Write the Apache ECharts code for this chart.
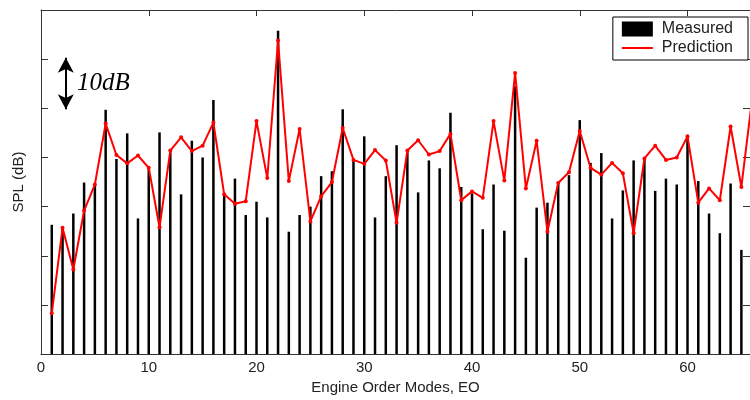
<!DOCTYPE html>
<html>
<head>
<meta charset="utf-8">
<script src="https://cdn.jsdelivr.net/npm/echarts@6/dist/echarts.min.js"></script>
<style>html,body{margin:0;padding:0;background:#fff;}#c{width:750px;height:400px;}</style>
</head>
<body>
<div id="c"></div>
<script>
const engineOrders = [1,2,3,4,5,6,7,8,9,10,11,12,13,14,15,16,17,18,19,20,21,22,23,24,25,26,27,28,29,30,31,32,33,34,35,36,37,38,39,40,41,42,43,44,45,46,47,48,49,50,51,52,53,54,55,56,57,58,59,60,61,62,63,64,65,66];
const measured = [26.3,25.5,28.6,34.9,34.5,49.7,39.7,44.9,27.6,37.8,45.1,41.4,32.5,43.4,40.0,51.7,32.6,35.7,28.3,31.0,27.8,65.8,24.9,28.3,30.0,36.2,37.2,49.8,39.4,44.3,27.8,36.2,42.5,41.4,32.9,39.4,37.8,49.1,34.0,32.7,25.4,34.5,25.1,54.5,19.6,29.8,30.8,34.6,36.4,47.6,38.9,40.9,27.6,33.3,39.4,39.7,33.2,35.7,34.5,44.2,35.2,28.6,24.6,34.7,21.2];
const prediction = [8.3,25.7,17.2,29.2,34.5,46.9,40.5,38.8,40.4,37.9,25.8,41.4,44.1,41.3,42.4,47.1,32.5,30.6,31.1,47.4,35.8,63.8,35.2,45.8,27.0,32.1,35.0,46.0,39.5,38.7,41.5,39.4,26.7,41.4,43.5,40.6,41.3,44.8,31.3,33.1,31.8,47.4,35.3,57.2,33.7,43.4,24.9,34.8,37.0,45.4,37.9,36.5,38.9,36.8,24.6,39.8,42.4,39.5,40.0,44.3,30.8,33.7,31.3,46.3,34.0,52.0];
const xTicks = [0,10,20,30,40,50,60];
const scaleBar = {x: 2.3, from: 60.3, to: 49.8, label: '10dB'};

const chart = echarts.init(document.getElementById('c'), null, {renderer: 'canvas'});
const axisColor = '#333';
const font = '"Liberation Sans", Arial, sans-serif';
const xBase = {
  type: 'value', min: 0, max: 65.8, interval: 10,
  axisLine: {show: true, onZero: false, lineStyle: {color: axisColor, width: 1}},
  axisTick: {show: true, inside: true, length: 6, lineStyle: {color: axisColor}},
  splitLine: {show: false}
};
const yBase = {
  type: 'value', min: 0, max: 70, interval: 10,
  axisLine: {show: true, onZero: false, lineStyle: {color: axisColor, width: 1}},
  axisTick: {show: true, inside: true, length: 7, lineStyle: {color: axisColor}},
  axisLabel: {show: false},
  splitLine: {show: false}
};
chart.setOption({
  animation: false,
  backgroundColor: '#fff',
  grid: {left: 41, top: 10, width: 711, height: 347, containLabel: false},
  xAxis: [
    Object.assign({}, xBase, {
      position: 'bottom',
      name: 'Engine Order Modes, EO', nameLocation: 'middle', nameGap: 22,
      nameTextStyle: {fontFamily: font, fontSize: 15, color: '#222'},
      axisLabel: {show: true, margin: 6, fontFamily: font, fontSize: 15, color: '#222',
        showMaxLabel: false,
        formatter: v => xTicks.indexOf(v) >= 0 ? String(v) : ''}
    }),
    Object.assign({}, xBase, {position: 'top', axisLabel: {show: false}})
  ],
  yAxis: [
    Object.assign({}, yBase, {
      position: 'left',
      name: 'SPL (dB)', nameLocation: 'middle', nameGap: 15, nameRotate: 90,
      nameTextStyle: {fontFamily: font, fontSize: 15, color: '#222'}
    }),
    Object.assign({}, yBase, {position: 'right'})
  ],
  legend: {
    right: 2, top: 17, orient: 'vertical',
    backgroundColor: '#fff',
    borderColor: '#000', borderWidth: 1, borderRadius: 0,
    padding: [4, 15, 4, 9],
    itemWidth: 31, itemHeight: 15, itemGap: 3,
    textStyle: {fontFamily: font, fontSize: 16, color: '#222', padding: [0, 0, 0, 4]},
    data: [
      {name: 'Measured', icon: 'rect'},
      {name: 'Prediction', icon: 'path://M0,0 L31,0 L31,2 L0,2 Z'}
    ]
  },
  series: [
    {
      name: 'Measured', type: 'bar', xAxisIndex: 0, yAxisIndex: 0,
      barWidth: 2.5, barGap: '-100%',
      itemStyle: {color: '#000'},
      data: measured.map((v, i) => [engineOrders[i], v]),
      markLine: {
        silent: true, symbol: ['arrow', 'arrow'], symbolSize: [12, 15],
        lineStyle: {color: '#000', width: 2, type: 'solid'},
        label: {show: false},
        data: [[{coord: [scaleBar.x, scaleBar.from]}, {coord: [scaleBar.x, scaleBar.to]}]]
      }
    },
    {
      name: 'Prediction', type: 'line', xAxisIndex: 0, yAxisIndex: 0,
      color: '#ff0000',
      lineStyle: {color: '#ff0000', width: 2},
      itemStyle: {color: '#ff0000'},
      symbol: 'circle', symbolSize: 4, showSymbol: true,
      clip: true, z: 5,
      data: prediction.map((v, i) => [engineOrders[i], v])
    }
  ],
  graphic: [{
    type: 'text', left: 77, top: 71,
    style: {text: scaleBar.label, font: 'italic 25px "Liberation Serif", "Times New Roman", serif', fill: '#000'}
  }]
});
</script>
</body>
</html>
